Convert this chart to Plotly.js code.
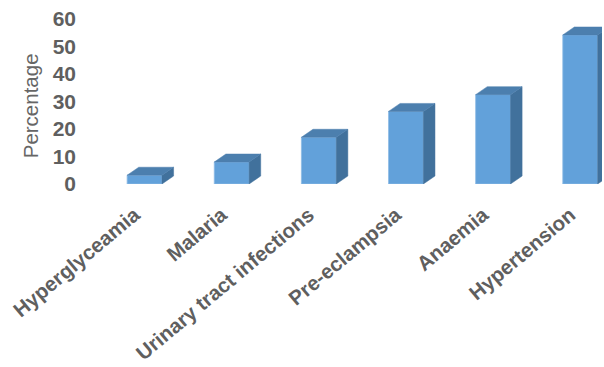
<!DOCTYPE html>
<html>
<head>
<meta charset="utf-8">
<script src="https://cdn.plot.ly/plotly-3.0.1.min.js"></script>
<style>html,body{margin:0;padding:0;background:#fff;}#chart{width:604px;height:367px;}</style>
</head>
<body>
<div id="chart"></div>
<script>
const categories = ["Hyperglyceamia", "Malaria", "Urinary tract infections", "Pre-eclampsia", "Anaemia", "Hypertension"];
const percentages = [3.2, 8.0, 17.0, 26.4, 32.5, 54.2];
const yTicks = [0, 10, 20, 30, 40, 50, 60];
const yAxisTitle = 'Percentage';

const positions = categories.map((c, i) => i);
const barWidth = 0.4;
const depthX = 0.133;
const depthY = 2.9;

// top faces and side faces built from the data values
const topX = [], topY = [], sideX = [], sideY = [];
positions.forEach((p, i) => {
  const v = percentages[i];
  const l = p - barWidth / 2, r = p + barWidth / 2;
  topX.push(l, r, r + depthX, l + depthX, l, null);
  topY.push(v, v, v + depthY, v + depthY, v, null);
  sideX.push(r, r + depthX, r + depthX, r, r, null);
  sideY.push(0, depthY, v + depthY, v, 0, null);
});

const traces = [
  {type: 'scatter', x: sideX, y: sideY, mode: 'lines', fill: 'toself',
   fillcolor: '#41719C', line: {color: '#41719C', width: 0.5}, hoverinfo: 'skip'},
  {type: 'scatter', x: topX, y: topY, mode: 'lines', fill: 'toself',
   fillcolor: '#4C7FAE', line: {color: '#4C7FAE', width: 0.5}, hoverinfo: 'skip'},
  {type: 'bar', x: positions, y: percentages, width: barWidth,
   marker: {color: '#62A1DA', line: {color: '#8DBBE4', width: 0.8}}, hoverinfo: 'skip'}
];

const fam = 'Liberation Sans, Arial, sans-serif';
const layout = {
  width: 604, height: 367,
  margin: {l: 101, r: 2, t: 19, b: 182.5},
  paper_bgcolor: '#ffffff', plot_bgcolor: '#ffffff',
  showlegend: false,
  hovermode: false,
  font: {family: fam, color: '#595959', size: 20},
  xaxis: {
    type: 'linear', range: [-0.5, 5.25],
    tickvals: positions, ticktext: categories,
    tickangle: -40, showgrid: false, zeroline: false, showline: false,
    ticks: '', ticklabelstandoff: 14, ticklabelshift: -10,
    tickfont: {family: fam, size: 20.5, color: '#5F5F5F', weight: 'bold'}
  },
  yaxis: {
    range: [0, 60], tickvals: yTicks, ticktext: yTicks.map(String),
    showgrid: false, zeroline: false, showline: false, ticks: '',
    ticklabelstandoff: 24, ticklabelshift: -3.5,
    tickfont: {family: fam, size: 21, color: '#5F5F5F', weight: 'bold'}
  },
  annotations: [{
    text: yAxisTitle, xref: 'paper', yref: 'paper', x: -0.1417, y: 0.471,
    xanchor: 'center', yanchor: 'middle', textangle: -90, showarrow: false,
    font: {family: fam, size: 20.5, color: '#666666'}
  }]
};

Plotly.newPlot('chart', traces, layout, {displayModeBar: false, staticPlot: true});
</script>
</body>
</html>
